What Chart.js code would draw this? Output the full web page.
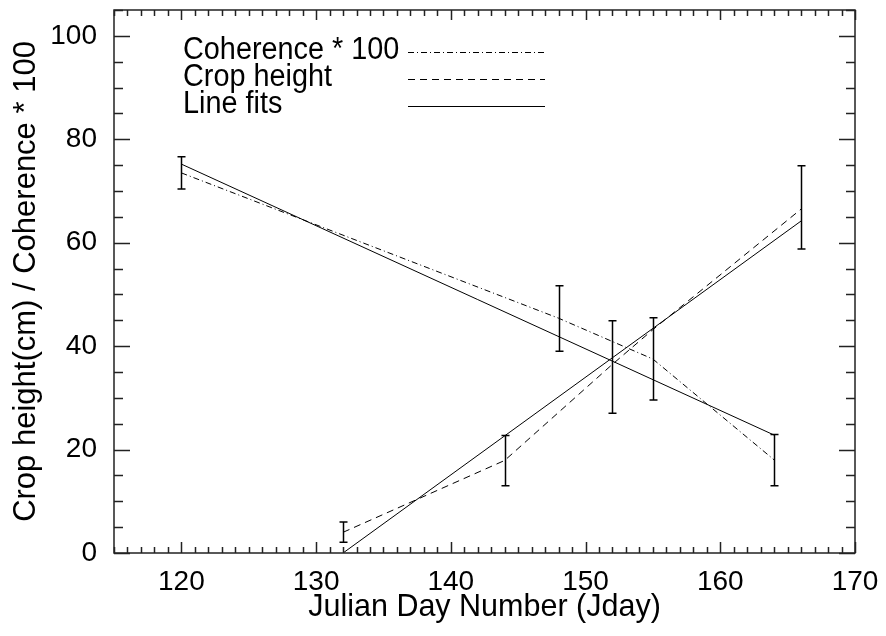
<!DOCTYPE html>
<html>
<head>
<meta charset="utf-8">
<script src="https://cdn.jsdelivr.net/npm/chart.js@4"></script>
<style>
  html, body { margin: 0; padding: 0; background: #fff; }
  #wrap { width: 886px; height: 636px; }
</style>
</head>
<body>
<div id="wrap"><canvas id="chart" width="886" height="636"></canvas></div>
<script>
// data
const cohDays = [120, 148, 155, 164];
const cohVals = [73.5, 45.4, 37.5, 18.0];

const cropDays = [132, 144, 152, 155, 166];
const cropVals = [4.0, 17.9, 36.5, 43.2, 66.5];

const cohFitDays = [120, 164];
const cohFitVals = [75.2, 22.8];

const cropFitDays = [132, 166];
const cropFitVals = [0, 64.2];

const errDays = [120, 132, 144, 148, 152, 155, 164, 166];
const errLow  = [70.4, 2.1, 13.0, 39.0, 27.0, 29.6, 13.0, 58.8];
const errHigh = [76.6, 6.0, 22.7, 51.7, 44.9, 45.5, 22.9, 74.9];

const xTicks = [120, 130, 140, 150, 160, 170];
const yTicks = [0, 20, 40, 60, 80, 100];

const legendLabels = ['Coherence * 100', 'Crop height', 'Line fits'];

const pts = (xs, ys) => xs.map((x, i) => ({ x, y: ys[i] }));

const DASHDOT = [6, 3, 1, 3];
const DASH = [7, 5];
const FONT = '"Liberation Sans", Arial, sans-serif';

const lineSet = (data, dash) => ({
    data,
    showLine: true,
    borderColor: '#000',
    borderWidth: 1,
    borderDash: dash,
    pointRadius: 0,
    fill: false
});

// IDL style frame with inward ticks on all four sides
const frame = {
    id: 'frame',
    afterDatasetsDraw(chart) {
        const { ctx, chartArea: a, scales: { x, y } } = chart;
        ctx.save();
        ctx.strokeStyle = '#222';
        ctx.lineWidth = 1.5;
        ctx.setLineDash([]);
        ctx.strokeRect(a.left, a.top, a.right - a.left, a.bottom - a.top);

        ctx.beginPath();
        for (let v = 115; v <= 170; v += 1) {
            const px = Math.round(x.getPixelForValue(v)) + 0.5;
            const major = v % 10 === 0;
            const lb = major ? 11 : 6;
            const lt = major ? 10 : 6;
            ctx.moveTo(px, a.bottom); ctx.lineTo(px, a.bottom - lb);
            ctx.moveTo(px, a.top); ctx.lineTo(px, a.top + lt);
        }
        for (let v = 0; v <= 105; v += 5) {
            const py = Math.round(y.getPixelForValue(v)) + 0.5;
            const len = v % 20 === 0 ? 16 : 9;
            ctx.moveTo(a.left, py); ctx.lineTo(a.left + len, py);
            ctx.moveTo(a.right, py); ctx.lineTo(a.right - len, py);
        }
        ctx.stroke();

        // error bars
        ctx.strokeStyle = '#000';
        ctx.lineWidth = 1.5;
        ctx.beginPath();
        errDays.forEach((d, i) => {
            const px = Math.round(x.getPixelForValue(d)) + 0.5;
            const top = y.getPixelForValue(errHigh[i]);
            const bot = y.getPixelForValue(errLow[i]);
            ctx.moveTo(px, top); ctx.lineTo(px, bot);
            ctx.moveTo(px - 4, top); ctx.lineTo(px + 4, top);
            ctx.moveTo(px - 4, bot); ctx.lineTo(px + 4, bot);
        });
        ctx.stroke();

        // legend
        const dashes = [DASHDOT, DASH, []];
        ctx.fillStyle = '#000';
        ctx.font = '31px ' + FONT;
        ctx.textBaseline = 'alphabetic';
        ctx.textAlign = 'left';
        ctx.lineWidth = 1;
        legendLabels.forEach((t, i) => {
            const base = 59 + i * 27;
            ctx.save();
            ctx.translate(183, base);
            ctx.scale(0.93, 1);
            ctx.fillText(t, 0, 0);
            ctx.restore();
            ctx.setLineDash(dashes[i]);
            ctx.beginPath();
            ctx.moveTo(408, base - 6.5);
            ctx.lineTo(545, base - 6.5);
            ctx.stroke();
        });
        ctx.restore();
    }
};

new Chart(document.getElementById('chart'), {
    type: 'scatter',
    data: {
        datasets: [
            lineSet(pts(cohDays, cohVals), DASHDOT),
            lineSet(pts(cropDays, cropVals), DASH),
            lineSet(pts(cohFitDays, cohFitVals), []),
            lineSet(pts(cropFitDays, cropFitVals), [])
        ]
    },
    options: {
        responsive: false,
        animation: false,
        layout: { padding: { top: 10, right: 31, left: 0, bottom: 0 } },
        plugins: {
            legend: { display: false },
            tooltip: { enabled: false }
        },
        scales: {
            x: {
                type: 'linear',
                min: 115,
                max: 170,
                afterFit(s) {
                    s.height = 83;
                    s.paddingLeft = 0;
                    s.paddingRight = 0;
                },
                afterBuildTicks(s) { s.ticks = xTicks.map(v => ({ value: v })); },
                grid: { display: false, drawTicks: false },
                border: { display: false },
                ticks: {
                    color: '#000',
                    padding: 12,
                    maxRotation: 0,
                    font: { family: FONT, size: 28 }
                },
                title: {
                    display: true,
                    text: 'Julian Day Number (Jday)',
                    color: '#000',
                    padding: { top: 0, bottom: 10 },
                    font: { family: FONT, size: 30.5 }
                }
            },
            y: {
                type: 'linear',
                min: 0,
                max: 105,
                afterFit(s) {
                    s.width = 114;
                    s.paddingTop = 0;
                    s.paddingBottom = 0;
                },
                afterBuildTicks(s) { s.ticks = yTicks.map(v => ({ value: v })); },
                grid: { display: false, drawTicks: false },
                border: { display: false },
                ticks: {
                    color: '#000',
                    padding: 17,
                    font: { family: FONT, size: 28 }
                },
                title: {
                    display: true,
                    text: 'Crop height(cm) / Coherence * 100',
                    color: '#000',
                    padding: { top: 8, bottom: 0 },
                    font: { family: FONT, size: 31 }
                }
            }
        }
    },
    plugins: [frame]
});
</script>
</body>
</html>
